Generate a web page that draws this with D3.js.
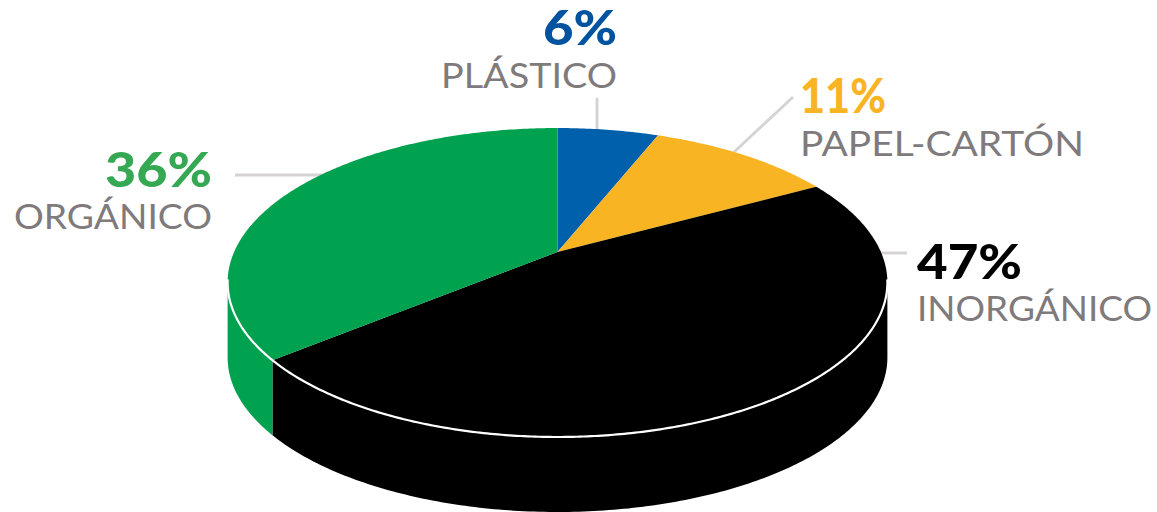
<!DOCTYPE html>
<html>
<head>
<meta charset="utf-8">
<script src="https://cdn.jsdelivr.net/npm/d3@7"></script>
<style>
  html, body { margin: 0; padding: 0; background: #ffffff; }
  svg { display: block; }
</style>
</head>
<body>
<svg id="chart" width="1157" height="512"></svg>
<script>
// ---- Data ----
const categories = ["PLÁSTICO", "PAPEL-CARTÓN", "INORGÁNICO", "ORGÁNICO"];
const values = [6, 11, 47, 36];
const percentLabels = ["6%", "11%", "47%", "36%"];
const sliceColors = ["#0060ab", "#f9b424", "#000000", "#00a14f"];
const percentColors = ["#00539f", "#f9b424", "#000000", "#35a853"];

// ---- Layout (positions, not data) ----
const W = 1157, H = 512;
const cx = 557.5, apexY = 252;   // projected pie centre
const D = 5.065;                 // perspective distance (in radii)
const fX = 1638, gY = 752;       // projection factors
const depth = 75;                // side thickness
const labelLayout = [
  { x: 617, pctY: 45, nameY: 88, anchor: "end", pctW: 74, nameW: 176, leader: [[597, 98], [597, 132]] },
  { x: 800, pctY: 113, nameY: 156, anchor: "start", pctW: 86, nameW: 284, leader: [[793, 97], [733, 153]] },
  { x: 917, pctY: 279, nameY: 321, anchor: "start", pctW: 105, nameW: 235, leader: [[907, 253], [878, 253]] },
  { x: 212, pctY: 187, nameY: 229, anchor: "end", pctW: 107, nameW: 198, leader: [[235, 175], [322, 175]] }
];

const svg = d3.select("#chart");

// angle -> projected point on rim (t clockwise from top)
function proj(t) {
  const u = Math.sin(t), v = -Math.cos(t);
  const w = D - v;
  return [cx + fX * u / w, apexY + gY * v / w];
}
function sample(a0, a1, n) {
  const pts = [];
  const steps = Math.max(2, Math.ceil(n));
  for (let i = 0; i <= steps; i++) pts.push(a0 + (a1 - a0) * i / steps);
  return pts;
}

const pie = d3.pie().sort(null).value(d => d)(values);
const line = d3.line();

// visible front arc
const frontStart = Math.acos(-1 / D);
const frontEnd = 2 * Math.PI - frontStart;

// leader lines (drawn behind pie)
svg.append("g").selectAll("line")
  .data(labelLayout)
  .join("line")
  .attr("x1", d => d.leader[0][0]).attr("y1", d => d.leader[0][1])
  .attr("x2", d => d.leader[1][0]).attr("y2", d => d.leader[1][1])
  .attr("stroke", "#d6d3d4").attr("stroke-width", 3);

// sides
const sides = svg.append("g");
pie.forEach((p, i) => {
  const a0 = Math.max(p.startAngle, frontStart);
  const a1 = Math.min(p.endAngle, frontEnd);
  if (a1 <= a0) return;
  const ts = sample(a0, a1, (a1 - a0) * 80);
  const top = ts.map(proj);
  const bottom = top.map(([x, y]) => [x, y + depth]).reverse();
  sides.append("path")
    .attr("d", line(top.concat(bottom)) + "Z")
    .attr("fill", sliceColors[i]);
});

// top faces
const tops = svg.append("g");
pie.forEach((p, i) => {
  const ts = sample(p.startAngle, p.endAngle, (p.endAngle - p.startAngle) * 80);
  const pts = [[cx, apexY]].concat(ts.map(proj));
  tops.append("path")
    .attr("d", line(pts) + "Z")
    .attr("fill", sliceColors[i]);
});

// white rim along front edge
svg.append("path")
  .attr("d", line(sample(frontStart - 0.02, frontEnd + 0.02, 300).map(proj)))
  .attr("fill", "none")
  .attr("stroke", "#ffffff")
  .attr("stroke-width", 2.2);

// labels
const lg = svg.append("g");
labelLayout.forEach((L, i) => {
  lg.append("text")
    .attr("x", L.x).attr("y", L.pctY)
    .attr("text-anchor", L.anchor)
    .attr("font-family", "Lato, 'Open Sans', sans-serif")
    .attr("font-weight", 900)
    .attr("font-size", 47)
    .attr("fill", percentColors[i])
    .attr("textLength", L.pctW)
    .attr("lengthAdjust", "spacingAndGlyphs")
    .text(percentLabels[i]);
  lg.append("text")
    .attr("x", L.x).attr("y", L.nameY)
    .attr("text-anchor", L.anchor)
    .attr("font-family", "Lato, 'Open Sans', sans-serif")
    .attr("font-weight", 400)
    .attr("font-size", 34)
    .attr("fill", "#7f7a7b")
    .attr("textLength", L.nameW)
    .attr("lengthAdjust", "spacingAndGlyphs")
    .text(categories[i]);
});
</script>
</body>
</html>
